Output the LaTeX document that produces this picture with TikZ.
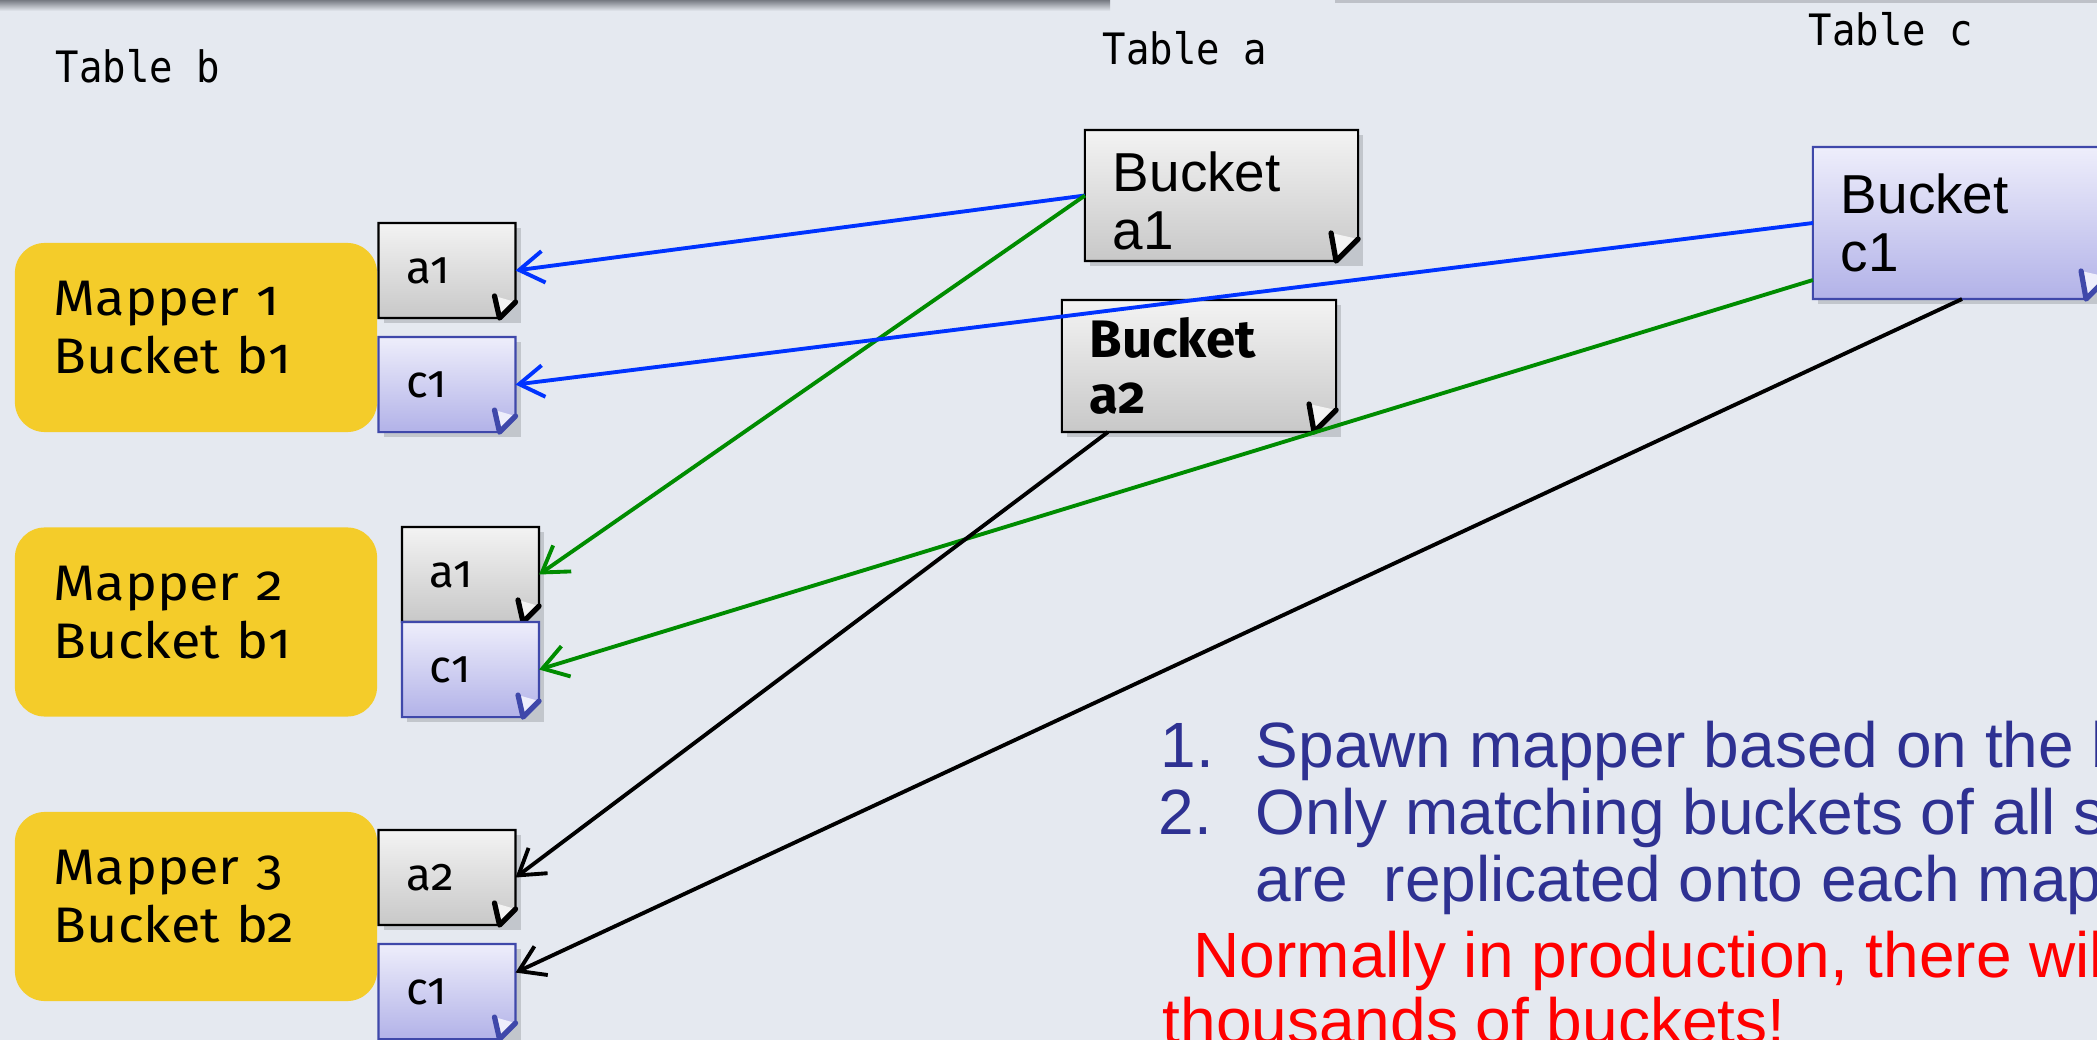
\documentclass[tikz,border=0pt]{standalone}
\usepackage{fontspec}
\setmainfont{Liberation Sans}
\newfontfamily\mapfont[Numbers=OldStyle]{Fira Sans}
\newfontfamily\mapwidefont[Numbers=OldStyle,FakeStretch=1.08]{Fira Sans}
\newfontfamily\tblfont[FakeStretch=0.9]{DejaVu Sans Mono}
\usetikzlibrary{arrows.meta,positioning}

\definecolor{slidebg}{RGB}{229,233,240}
\definecolor{topbar}{RGB}{118,122,130}
\definecolor{thinbar}{RGB}{190,193,200}
\definecolor{mapyellow}{RGB}{244,204,42}
\definecolor{linkblue}{RGB}{0,51,255}
\definecolor{linkgreen}{RGB}{0,140,0}
\definecolor{notetop}{RGB}{243,243,243}
\definecolor{notebot}{RGB}{200,200,200}
\definecolor{lavtop}{RGB}{238,238,251}
\definecolor{lavbot}{RGB}{178,178,232}
\definecolor{lavedge}{RGB}{63,72,170}
\definecolor{listblue}{RGB}{46,49,146}

\pgfdeclarelayer{background}
\pgfsetlayers{background,main}

\begin{document}
\begin{tikzpicture}[
    x=0.01cm, y=-0.01cm,
    >={Straight Barb[length=7pt,width=9pt]},
    mapper/.style={fill=mapyellow, rounded corners=0.3cm, minimum width=3.62cm,
        minimum height=1.89cm, text width=2.84cm, inner xsep=0.39cm, inner ysep=0pt,
        align=left, font=\mapwidefont\fontsize{14.2}{16.5}\selectfont,
        execute at end node={\rule[-0.2cm]{0pt}{0pt}}},
    note/.style={minimum width=1.37cm, minimum height=0.95cm, text width=0.81cm,
        inner xsep=0.28cm, inner ysep=0pt, outer sep=0pt, align=left,
        font=\mapfont\fontsize{13}{15}\selectfont},
    bucket/.style={inner xsep=0.28cm, inner ysep=0pt, outer sep=0pt, align=left,
        font=\fontsize{15.6}{16.5}\selectfont},
    tablelabel/.style={anchor=base west, inner sep=0pt,
        font=\tblfont\fontsize{12.3}{14}\selectfont},
    listline/.style={anchor=base west, inner sep=0pt, text=listblue,
        font=\fontsize{18.2}{22}\selectfont},
    link/.style={->, line width=1.1pt}
]
\useasboundingbox (0,0) rectangle (2097,1040);

% Table headers
\node[tablelabel] (tb) at (55,83) {Table b};
\node[tablelabel] (ta) at (1102,65) {Table a};
\node[tablelabel] (tc) at (1808,46) {Table c};

% Mappers
\node[mapper] (m1) at (196,337.5) {Mapper 1\\Bucket b1};
\node[mapper] (m2) at (196,622) {Mapper 2\\Bucket b1};
\node[mapper] (m3) at (196,906.5) {Mapper 3\\Bucket b2};

% Replicated buckets
\node[note] (m1a) at (447,270.5) {a1};
\node[note, below=0.19cm of m1a] (m1c) {c1};
\node[note] (m2a) at (470.5,574.5) {a1};
\node[note, below=0pt of m2a] (m2c) {c1};
\node[note] (m3a) at (447,877.5) {a2};
\node[note, below=0.19cm of m3a] (m3c) {c1};

% Source buckets
\node[bucket, minimum width=2.73cm, minimum height=1.31cm, text width=2.17cm,
      execute at begin node={\rule{0pt}{0.5cm}}]
    (ba1) at (1221.5,195.5) {Bucket\\a1};
\node[bucket, font=\mapfont\bfseries\fontsize{15}{15.9}\selectfont,
      minimum width=2.74cm, minimum height=1.32cm, text width=2.18cm]
    (ba2) at (1199,366) {Bucket\\a2};
\node[bucket, minimum width=2.95cm, minimum height=1.52cm, text width=2.39cm]
    (bc1) at (1960.5,223) {Bucket\\c1};

% Notes
\node[listline] (l1) at (1160,767) {\makebox[0.95cm][l]{1.}Spawn mapper based on the big table};
\node[listline] (l2) at (1158,834) {\makebox[0.97cm][l]{2.}Only matching buckets of all small tables};
\node[listline] (l3) at (1255,901) {are\ \ replicated onto each mapper};
\node[listline, text=red] (l4) at (1193,977) {Normally in production, there will be};
\node[listline, text=red] (l5) at (1162,1043) {thousands of buckets!};

% Links
\draw[link, linkblue] (ba1.west) -- (m1a.east);
\draw[link, linkgreen] (ba1.west) -- (m2a.east);
\draw[link, linkblue] (bc1.west) -- (m1c.east);
\draw[link, linkgreen] ([yshift=0.19cm]bc1.south west) -- (m2c.east);
\draw[link] ([xshift=0.46cm]ba2.south west) -- (m3a.east);
\draw[link] ([xshift=1.49cm]bc1.south west) -- ([yshift=0.19cm]m3c.east);

% Slide background and folded notes
\begin{pgfonlayer}{background}
\fill[slidebg] (0,0) rectangle (2097,1040);
\shade[top color=topbar, bottom color=slidebg] (0,0) rectangle (1110,11);
\fill[thinbar] (1335,0) rectangle (2097,3);
\foreach \n/\ctop/\cbot/\cedge/\cut in {m1a/notetop/notebot/black/0.16cm,
    m1c/lavtop/lavbot/lavedge/0.16cm, m2a/notetop/notebot/black/0.16cm,
    m2c/lavtop/lavbot/lavedge/0.16cm, m3a/notetop/notebot/black/0.16cm,
    m3c/lavtop/lavbot/lavedge/0.16cm, ba1/notetop/notebot/black/0.22cm,
    ba2/notetop/notebot/black/0.22cm, bc1/lavtop/lavbot/lavedge/0.22cm}{
  \fill[black, opacity=0.15] ([shift={(1.5pt,-1.5pt)}]\n.north west)
      rectangle ([shift={(1.5pt,-1.5pt)}]\n.south east);
  \shadedraw[top color=\ctop, bottom color=\cbot, draw=\cedge, line width=0.6pt]
      (\n.north west) -- (\n.north east) -- ([yshift=\cut]\n.south east)
      -- ([xshift=-\cut]\n.south east) -- (\n.south west) -- cycle;
  \fill[\ctop] ([shift={(-\cut-0.05cm,\cut+0.06cm)}]\n.south east)
      -- ([xshift=-\cut]\n.south east) -- ([yshift=\cut]\n.south east) -- cycle;
  \draw[\cedge, line width=1.5pt, line cap=round, line join=round]
      ([shift={(-\cut-0.05cm,\cut+0.06cm)}]\n.south east)
      -- ([xshift=-\cut]\n.south east) -- ([yshift=\cut]\n.south east);
}
\end{pgfonlayer}

\end{tikzpicture}
\end{document}
